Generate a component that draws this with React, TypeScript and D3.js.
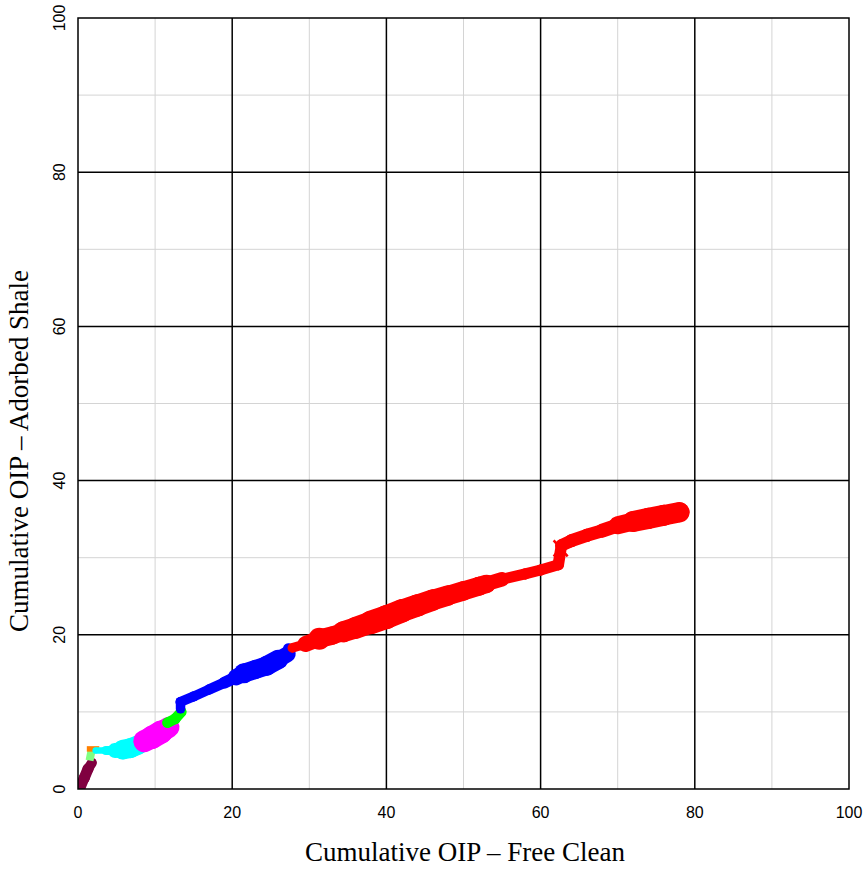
import * as d3 from 'd3'

// each series: [x, y] points and a marker size per point
const maroonPts: [number, number][] = [[0.3, 0.2], [0.8, 1.4], [1.3, 2.6], [1.8, 3.4]]
const maroonSize = [10, 11, 11, 9]
const lightGreenPts: [number, number][] = [[1.6, 4.2], [1.7, 4.7]]
const lightGreenSize = [8, 8]
const orangePts: [number, number][] = [[1.5, 5.2], [2.4, 5.2]]
const orangeSize = [6, 5]
const cyanPts: [number, number][] = [[2.3, 5.0], [3.6, 5.0], [4.8, 5.0], [5.8, 5.1], [6.8, 5.3], [7.8, 5.7], [8.6, 6.2]]
const cyanSize = [6, 7, 11, 19, 20, 19, 17]
const magentaPts: [number, number][] = [[8.6, 6.2], [9.6, 6.7], [10.8, 7.4], [11.8, 8.0]]
const magentaSize = [21, 23, 23, 19]
const greenPts: [number, number][] = [[11.6, 8.6], [12.6, 9.1], [13.4, 10.0]]
const greenSize = [10, 11, 10]
const bluePts: [number, number][] = [
  [13.3, 10.4], [13.3, 11.3], [15, 12.0], [17, 12.9], [19, 13.8], [20.5, 14.5],
  [21.5, 15.0], [23, 15.5], [24.5, 16.0], [26, 16.8], [27.2, 17.5], [27.3, 18.2],
]
const blueSize = [9, 10, 10, 10, 11, 13, 20, 18, 20, 19, 13, 9]
const redPts: [number, number][] = [
  [27.8, 18.3], [29.5, 18.8], [31.3, 19.5], [33, 19.9], [34.4, 20.4], [36, 20.9],
  [38, 21.6], [40, 22.3], [42, 23.1], [44, 23.8], [46, 24.5], [48, 25.1],
  [50, 25.7], [52, 26.3], [53, 26.6], [55, 27.2], [58, 27.9], [60, 28.4],
  [62.3, 29.1], [62.7, 31.6], [64, 32.2], [66, 32.9], [68, 33.5], [70, 34.2],
  [72, 34.7], [74, 35.1], [76, 35.5], [78, 35.9],
]
const redSize = [
  9, 10, 22, 15, 21, 21, 23, 24, 23, 22, 21, 20,
  19, 19, 18, 11, 11, 11, 11, 12, 13, 13, 13, 15,
  21, 21, 21, 20,
]
const crossPts: [number, number][] = [[62.6, 31.2]]

const xTicks = [0, 20, 40, 60, 80, 100]
const yTicks = [0, 20, 40, 60, 80, 100]
const minorTicks = [10, 30, 50, 70, 90]

const series = [
  { pts: maroonPts, size: maroonSize, color: '#800040', cap: 'round' },
  { pts: lightGreenPts, size: lightGreenSize, color: '#80ff80', cap: 'square' },
  { pts: orangePts, size: orangeSize, color: '#ff8000', cap: 'square' },
  { pts: cyanPts, size: cyanSize, color: '#00ffff', cap: 'round' },
  { pts: magentaPts, size: magentaSize, color: '#ff00ff', cap: 'round' },
  { pts: greenPts, size: greenSize, color: '#00ff00', cap: 'round' },
  { pts: bluePts, size: blueSize, color: '#0000ff', cap: 'round' },
  { pts: redPts, size: redSize, color: '#ff0000', cap: 'round' },
]

export default function App() {
  const width = 864
  const height = 869
  const margin = { top: 18, right: 15, bottom: 80, left: 78 }

  const x = d3.scaleLinear().domain([0, 100]).range([margin.left, width - margin.right])
  const y = d3.scaleLinear().domain([0, 100]).range([height - margin.bottom, margin.top])

  const tickFont = '"Liberation Sans", Arial, sans-serif'
  const titleFont = '"Liberation Serif", "Times New Roman", serif'

  return (
    <svg width={width} height={height} style={{ position: 'absolute', left: 0, top: 0, background: '#fff' }}>
      <defs>
        <clipPath id="plot">
          <rect x={x(0)} y={y(100)} width={x(100) - x(0)} height={y(0) - y(100)} />
        </clipPath>
      </defs>

      {/* minor grid */}
      {minorTicks.map(t => (
        <g key={'m' + t}>
          <line x1={x(t)} x2={x(t)} y1={y(0)} y2={y(100)} stroke="#d4d4d4" strokeWidth={1} />
          <line x1={x(0)} x2={x(100)} y1={y(t)} y2={y(t)} stroke="#d4d4d4" strokeWidth={1} />
        </g>
      ))}
      {/* major grid */}
      {xTicks.slice(1, -1).map(t => (
        <line key={'gx' + t} x1={x(t)} x2={x(t)} y1={y(0)} y2={y(100)} stroke="#000" strokeWidth={1.5} />
      ))}
      {yTicks.slice(1, -1).map(t => (
        <line key={'gy' + t} x1={x(0)} x2={x(100)} y1={y(t)} y2={y(t)} stroke="#000" strokeWidth={1.5} />
      ))}

      <g clipPath="url(#plot)">
        {series.map((s, si) => (
          <g key={si}>
            {s.pts.slice(1).map((p, i) => (
              <line
                key={'l' + i}
                x1={x(s.pts[i][0])}
                y1={y(s.pts[i][1])}
                x2={x(p[0])}
                y2={y(p[1])}
                stroke={s.color}
                strokeWidth={(s.size[i] + s.size[i + 1]) / 2}
                strokeLinecap={s.cap as any}
              />
            ))}
            {s.cap === 'round' && s.pts.map((p, i) => (
              <circle key={'c' + i} cx={x(p[0])} cy={y(p[1])} r={s.size[i] / 2} fill={s.color} />
            ))}
          </g>
        ))}
        {crossPts.map((p, i) => (
          <path
            key={'x' + i}
            d={`M${x(p[0]) - 7},${y(p[1]) - 8}L${x(p[0]) + 7},${y(p[1]) + 8}M${x(p[0]) - 7},${y(p[1]) + 8}L${x(p[0]) + 7},${y(p[1]) - 8}`}
            stroke="#ff0000"
            strokeWidth={2.5}
          />
        ))}
      </g>

      {/* frame */}
      <rect x={x(0)} y={y(100)} width={x(100) - x(0)} height={y(0) - y(100)} fill="none" stroke="#000" strokeWidth={1.5} />

      {xTicks.map(t => (
        <text key={'tx' + t} x={x(t)} y={y(0) + 29} textAnchor="middle" fontFamily={tickFont} fontSize={16}>
          {t}
        </text>
      ))}
      {yTicks.map(t => (
        <text
          key={'ty' + t}
          transform={`translate(${x(0) - 13},${y(t)}) rotate(-90)`}
          textAnchor="middle"
          fontFamily={tickFont}
          fontSize={16}
        >
          {t}
        </text>
      ))}

      <text x={465} y={861} textAnchor="middle" fontFamily={titleFont} fontSize={27}>
        Cumulative OIP – Free Clean
      </text>
      <text transform="translate(28,451) rotate(-90)" textAnchor="middle" fontFamily={titleFont} fontSize={27}>
        Cumulative OIP – Adorbed Shale
      </text>
    </svg>
  )
}
